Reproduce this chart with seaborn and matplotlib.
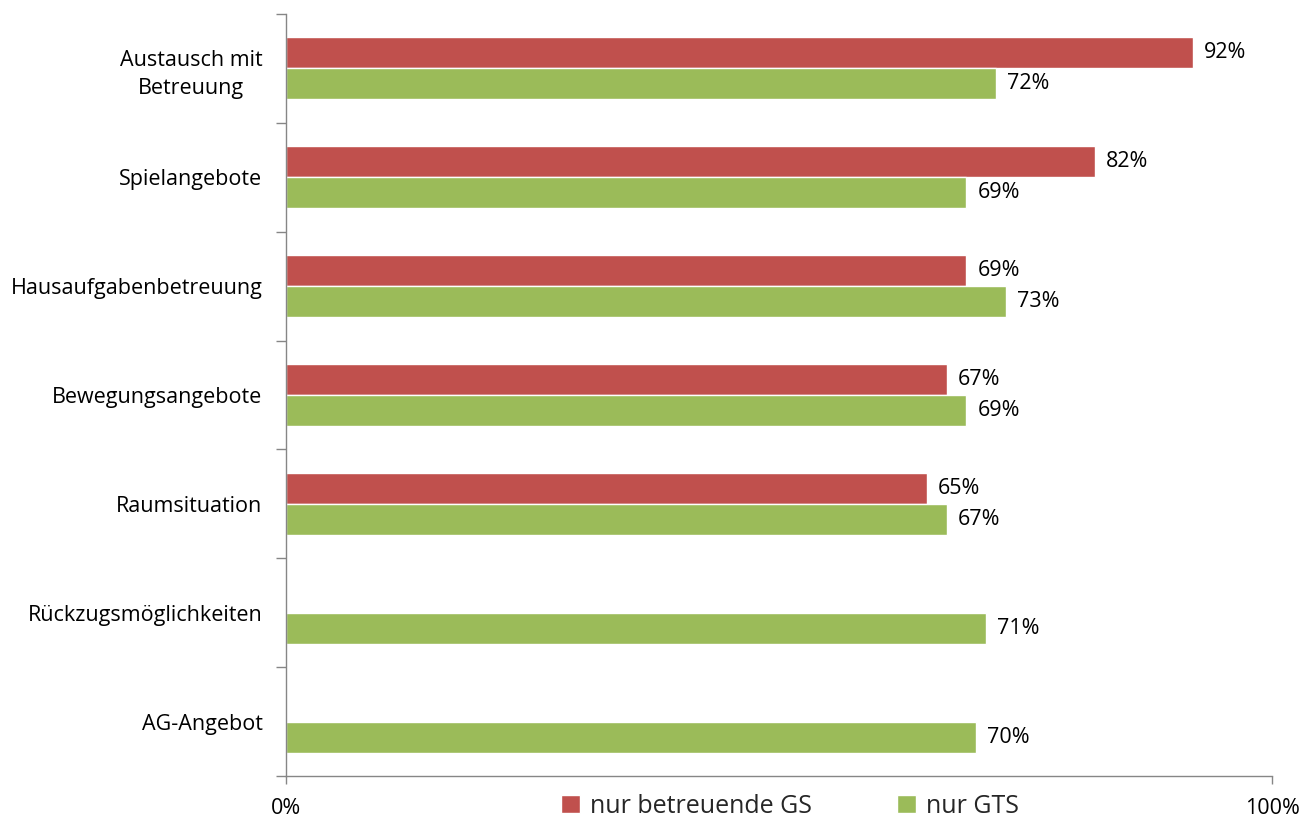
import numpy as np
import pandas as pd
import matplotlib
matplotlib.use("Agg")
import matplotlib.pyplot as plt
import seaborn as sns

categories = ["Austausch mit\nBetreuung", "Spielangebote", "Hausaufgabenbetreuung",
              "Bewegungsangebote", "Raumsituation", "Rückzugsmöglichkeiten", "AG-Angebot"]
series_names = ["nur betreuende GS", "nur GTS"]
gs_values = [92, 82, 69, 67, 65, np.nan, np.nan]
gts_values = [72, 69, 73, 69, 67, 71, 70]
x_tick_labels = ["0%", "100%"]

sns.set_theme(style="white")
plt.rcParams['font.family'] = ['Open Sans', 'DejaVu Sans']

df = pd.DataFrame({
    "cat": categories * 2,
    "series": [series_names[0]] * len(categories) + [series_names[1]] * len(categories),
    "val": gs_values + gts_values,
})

colors = ["#C0504D", "#9BBB59"]

fig = plt.figure(figsize=(13.16, 8.22), dpi=100)
ax = fig.add_axes([286/1316, 1-776/822, (1272-286)/1316, (776-14)/822])

sns.barplot(data=df, y="cat", x="val", hue="series", order=categories,
            hue_order=series_names, palette=colors, width=0.57, orient="h",
            saturation=1, ax=ax, legend=True)

for cont in ax.containers:
    labels = ["" if np.isnan(v) else f"{v:.0f}%" for v in cont.datavalues]
    ax.bar_label(cont, labels=labels, padding=8, fontsize=15.5, color="black")

ax.set_xlim(0, 100)
ax.set_ylim(len(categories) - 0.5, -0.5)
ax.set_xticks([0, 100])
ax.set_xticklabels(x_tick_labels, fontsize=15.5, color="black")
ax.set_xlabel("")
ax.set_ylabel("")
ax.set_yticks(range(len(categories)))
ax.set_yticklabels(categories, fontsize=15.5, ha="right", multialignment="center",
                   color="black", linespacing=1.45)
ax.tick_params(axis="y", which="major", length=0, pad=17)
ax.set_yticks(np.arange(-0.5, len(categories), 1.0), minor=True)
ax.tick_params(axis="y", which="minor", length=7, color="#868686", width=1, left=True)
ax.tick_params(axis="x", which="major", length=6, color="#868686", width=1, bottom=True, pad=10)

for s in ["top", "right"]:
    ax.spines[s].set_visible(False)
for s in ["left", "bottom"]:
    ax.spines[s].set_color("#868686")
    ax.spines[s].set_linewidth(1)

handles = ax.get_legend().legend_handles
ax.legend(handles=handles, labels=series_names, loc="center",
          bbox_to_anchor=(790/1316, 1-806/822),
          bbox_transform=fig.transFigure, ncol=2, frameon=False, fontsize=18,
          handlelength=0.75, handleheight=0.75, columnspacing=3.4, handletextpad=0.4,
          borderpad=0, borderaxespad=0)

fig.savefig("out.png", dpi=100)
